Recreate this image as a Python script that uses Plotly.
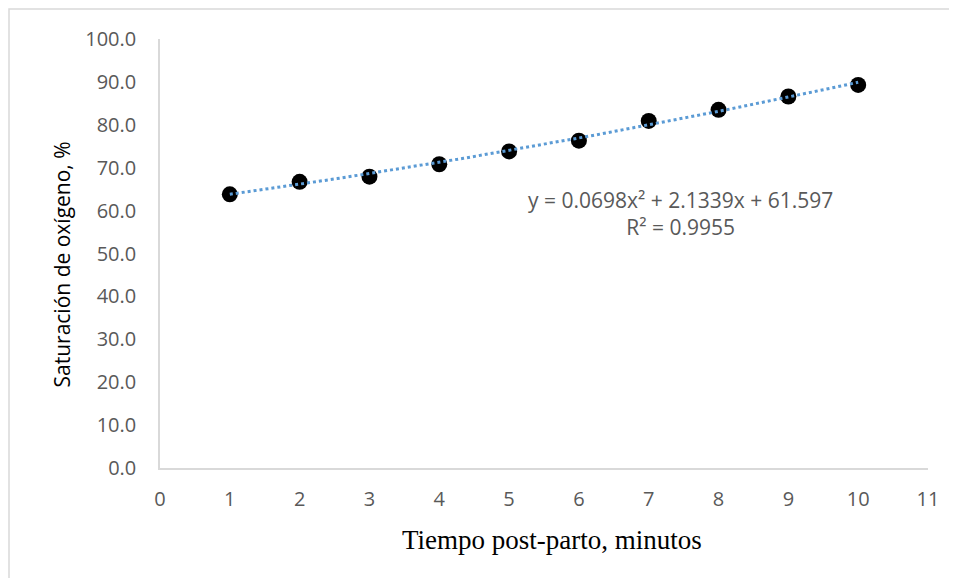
import numpy as np
import plotly.graph_objects as go

minutes = [1, 2, 3, 4, 5, 6, 7, 8, 9, 10]
saturation = [63.8, 66.7, 67.9, 70.8, 73.8, 76.3, 80.9, 83.5, 86.6, 89.3]
trend_coef = [0.0698, 2.1339, 61.597]  # as shown on chart
y_ticks = [0, 10, 20, 30, 40, 50, 60, 70, 80, 90, 100]
x_ticks = list(range(0, 12))

xt = np.linspace(minutes[0], minutes[-1], 200)
yt = np.polyval(trend_coef, xt)

fig = go.Figure()
fig.add_trace(go.Scatter(x=minutes, y=saturation, mode="markers",
                         marker=dict(color="black", size=16),
                         showlegend=False))
fig.add_trace(go.Scatter(x=xt, y=yt, mode="lines",
                         line=dict(color="#5B9BD5", width=3, dash="dot"),
                         hoverinfo="skip", showlegend=False))

sans = "Open Sans, Noto Sans, sans-serif"
tickfont = dict(family=sans, size=20, color="#595959")
fig.update_layout(
    width=957, height=578,
    margin=dict(l=152, r=37, t=31, b=118),
    paper_bgcolor="white", plot_bgcolor="white",
    xaxis=dict(range=[0, 11], tickvals=x_ticks, showgrid=False, zeroline=False,
               showline=True, linecolor="#D9D9D9", linewidth=1.5, ticks="",
               tickfont=tickfont, ticklabelstandoff=12),
    yaxis=dict(range=[0, 100], tickvals=y_ticks, tickformat=".1f", showgrid=False,
               zeroline=False, showline=True, linecolor="#D9D9D9", linewidth=1.5, ticks="",
               tickfont=tickfont, ticklabelstandoff=18),
    shapes=[dict(type="rect", xref="paper", yref="paper",
                 x0=-151/768, x1=1.2, y0=-1.0, y1=1 + 30/429,
                 line=dict(color="#D9D9D9", width=1.5), fillcolor="rgba(0,0,0,0)")],
    annotations=[
        dict(x=7.46, y=59.4, xref="x", yref="y", showarrow=False,
             text="y = 0.0698x² + 2.1339x + 61.597<br>R² = 0.9955",
             align="center", font=dict(family=sans, size=21, color="#595959")),
        dict(x=0, y=0.5, xref="paper", yref="paper", xanchor="center", yanchor="middle",
             xshift=-99, yshift=-11, showarrow=False, textangle=-90,
             text="Saturación de oxígeno, %",
             font=dict(family=sans, size=21, color="black")),
        dict(x=0.5, y=0, xref="paper", yref="paper", xanchor="center", yanchor="middle",
             xshift=8, yshift=-72, showarrow=False,
             text="Tiempo post-parto, minutos",
             font=dict(family="Liberation Serif, Times New Roman, serif", size=27, color="black")),
    ],
)

fig.write_html("out.html")
